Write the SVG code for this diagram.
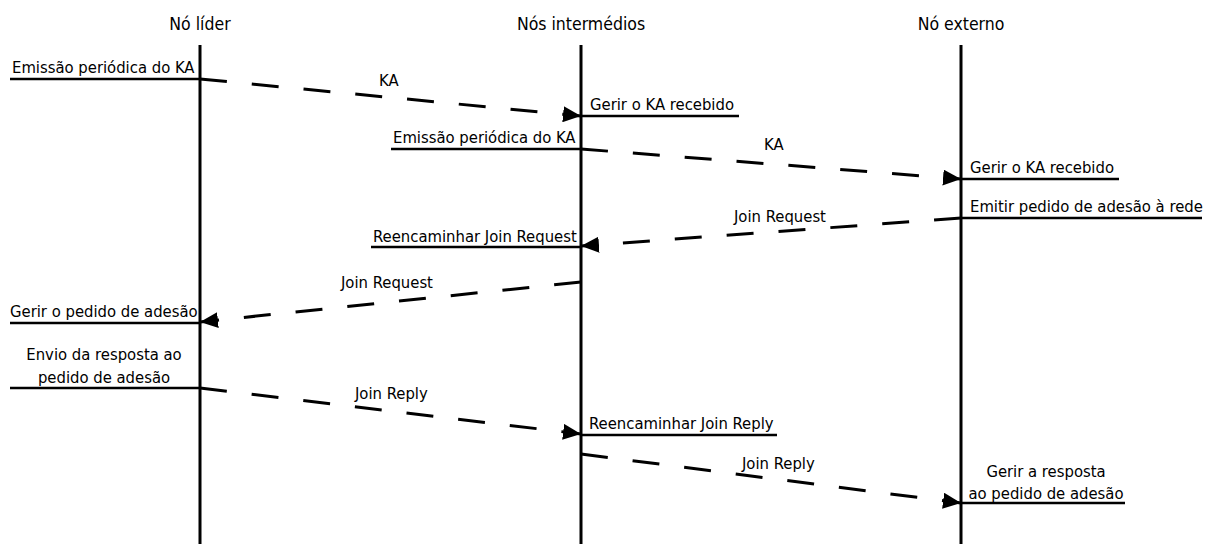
<svg xmlns="http://www.w3.org/2000/svg" width="1207" height="544" viewBox="0 0 1207 544">
  <style>
    text { font-family: "DejaVu Sans Condensed", "DejaVu Sans", sans-serif; font-size: 16.5px; fill: #000; }
    .head { font-size: 17.5px; text-anchor: middle; }
    .mid { text-anchor: middle; }
    .life { stroke: #000; stroke-width: 3; fill: none; }
    .act { stroke: #000; stroke-width: 2.5; fill: none; }
    .msg { stroke: #000; stroke-width: 3; fill: none; stroke-dasharray: 27 25; marker-end: url(#arrow); }
  </style>
  <defs>
    <marker id="arrow" markerUnits="userSpaceOnUse" markerWidth="18" markerHeight="16" refX="18" refY="8" orient="auto">
      <path d="M0,0 L18,8 L0,16 z" fill="#000" stroke="none"/>
    </marker>
  </defs>
  <rect width="1207" height="544" fill="#fff"/>

  <!-- participants with lifelines -->
  <g id="leader">
    <text class="head" x="200" y="30">Nó líder</text>
    <line class="life" x1="200" y1="45" x2="200" y2="544"/>
  </g>
  <g id="intermediate">
    <text class="head" x="581" y="30">Nós intermédios</text>
    <line class="life" x1="581" y1="45" x2="581" y2="544"/>
  </g>
  <g id="external">
    <text class="head" x="961" y="30">Nó externo</text>
    <line class="life" x1="961" y1="45" x2="961" y2="544"/>
  </g>

  <!-- actions attached to lifelines -->
  <g id="act-leader-emit">
    <line class="act" x1="10" y1="79" x2="200" y2="79"/>
    <text x="12" y="73">Emissão periódica do KA</text>
  </g>
  <g id="act-mid-handle-ka">
    <line class="act" x1="581" y1="116" x2="739" y2="116"/>
    <text x="590" y="110">Gerir o KA recebido</text>
  </g>
  <g id="act-mid-emit">
    <line class="act" x1="391" y1="149" x2="581" y2="149"/>
    <text x="393" y="143">Emissão periódica do KA</text>
  </g>
  <g id="act-ext-handle-ka">
    <line class="act" x1="961" y1="179" x2="1119" y2="179"/>
    <text x="970" y="173">Gerir o KA recebido</text>
  </g>
  <g id="act-ext-request">
    <line class="act" x1="961" y1="218" x2="1202" y2="218"/>
    <text x="970" y="212">Emitir pedido de adesão à rede</text>
  </g>
  <g id="act-mid-forward-request">
    <line class="act" x1="371" y1="247" x2="581" y2="247"/>
    <text x="373" y="242">Reencaminhar Join Request</text>
  </g>
  <g id="act-leader-handle-request">
    <line class="act" x1="10" y1="323" x2="200" y2="323"/>
    <text x="10" y="317">Gerir o pedido de adesão</text>
  </g>
  <g id="act-leader-reply">
    <line class="act" x1="10" y1="388" x2="200" y2="388"/>
    <text class="mid" x="104" y="360">Envio da resposta ao</text>
    <text class="mid" x="104" y="383">pedido de adesão</text>
  </g>
  <g id="act-mid-forward-reply">
    <line class="act" x1="581" y1="435" x2="777" y2="435"/>
    <text x="589" y="429">Reencaminhar Join Reply</text>
  </g>
  <g id="act-ext-handle-reply">
    <line class="act" x1="961" y1="503" x2="1125" y2="503"/>
    <text class="mid" x="1046" y="477">Gerir a resposta</text>
    <text class="mid" x="1046" y="499">ao pedido de adesão</text>
  </g>

  <!-- messages -->
  <g id="messages">
    <line class="msg" x1="200" y1="79" x2="581" y2="116"/>
    <text x="379" y="86">KA</text>
    <line class="msg" x1="581" y1="149" x2="961" y2="179"/>
    <text x="764" y="150">KA</text>
    <line class="msg" x1="961" y1="218" x2="581" y2="246"/>
    <text x="734" y="222">Join Request</text>
    <line class="msg" x1="581" y1="282" x2="200" y2="322"/>
    <text x="341" y="288">Join Request</text>
    <line class="msg" x1="200" y1="388" x2="581" y2="434"/>
    <text x="355" y="399">Join Reply</text>
    <line class="msg" x1="581" y1="454" x2="961" y2="503"/>
    <text x="742" y="469">Join Reply</text>
  </g>
</svg>
